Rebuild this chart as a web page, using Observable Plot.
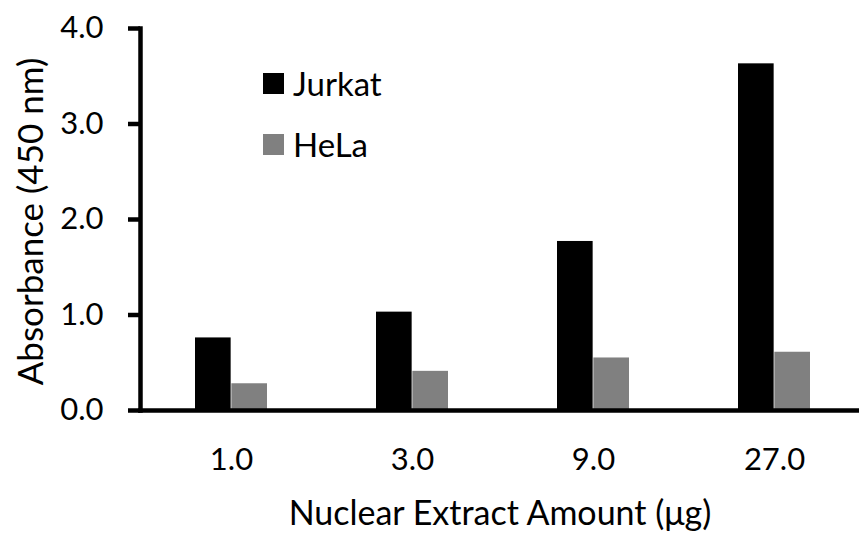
<!DOCTYPE html>
<html><head><meta charset="utf-8">
<script src="https://cdn.jsdelivr.net/npm/d3@7"></script>
<script src="https://cdn.jsdelivr.net/npm/@observablehq/plot@0.6"></script>
<style>
body{margin:0;background:#fff;}
#wrap{position:relative;width:859px;height:533px;font-family:Lato,sans-serif;color:#000;}
.item{position:absolute;left:263px;height:40px;display:flex;align-items:center;font-size:33px;white-space:nowrap;}
.sw{width:21px;height:21px;margin-right:9px;}
</style></head>
<body><div id="wrap"></div>
<script>
const amounts = ["1.0", "3.0", "9.0", "27.0"];
const seriesNames = ["Jurkat", "HeLa"];
const jurkat = [0.76, 1.03, 1.77, 3.63];
const hela = [0.28, 0.41, 0.55, 0.61];
const seriesColors = ["#000000", "#808080"];
const yTicks = [0, 1, 2, 3, 4];
const xTitle = "Nuclear Extract Amount (μg)";
const yTitle = "Absorbance (450 nm)";

const W = 859, H = 533;
const xRange = [139, 866];
const pInner = 0.6, pOuter = 0.3;
const band = d3.scaleBand(amounts, xRange).paddingInner(pInner).paddingOuter(pOuter);
const half = band.bandwidth() / 2;

const rowsJ = amounts.map((a, i) => ({amount: a, value: jurkat[i]}));
const rowsH = amounts.map((a, i) => ({amount: a, value: hela[i]}));

const chart = Plot.plot({
  width: W,
  height: H,
  marginLeft: 140,
  marginRight: 0,
  marginTop: 28,
  marginBottom: 123,
  style: {fontFamily: "Lato, sans-serif", fontSize: "31px", color: "#000", background: "#fff"},
  x: {domain: amounts, range: xRange, paddingInner: pInner, paddingOuter: pOuter, axis: null},
  y: {domain: [0, 4], axis: null},
  marks: [
    Plot.barY(rowsJ, {x: "amount", y: "value", fill: seriesColors[0], insetRight: half}),
    Plot.barY(rowsH, {x: "amount", y: "value", fill: seriesColors[1], insetLeft: half}),
    Plot.axisY({ticks: yTicks, tickFormat: d3.format(".1f"), tickSize: 12, tickPadding: 25, strokeWidth: 4.5, fontSize: 31, label: null}),
    Plot.axisX({tickSize: 0, tickPadding: 37, fontSize: 31, label: null}),
    Plot.frame({anchor: "left", strokeWidth: 4.5}),
    Plot.frame({anchor: "bottom", strokeWidth: 4.5}),
    Plot.text([yTitle], {text: d => d, frameAnchor: "left", textAnchor: "middle", lineAnchor: "middle", rotate: -90, dx: -109, dy: 2, fontSize: 35}),
    Plot.text([xTitle], {text: d => d, frameAnchor: "bottom", textAnchor: "middle", lineAnchor: "middle", dy: 104, fontSize: 34})
  ]
});
const wrap = document.getElementById("wrap");
wrap.appendChild(chart);

const legendTops = [63, 124];
seriesNames.forEach((name, i) => {
  const it = document.createElement("div");
  it.className = "item";
  it.style.top = legendTops[i] + "px";
  const sw = document.createElement("span");
  sw.className = "sw";
  sw.style.background = seriesColors[i];
  const tx = document.createElement("span");
  tx.textContent = name;
  it.appendChild(sw);
  it.appendChild(tx);
  wrap.appendChild(it);
});
</script>
</body></html>
